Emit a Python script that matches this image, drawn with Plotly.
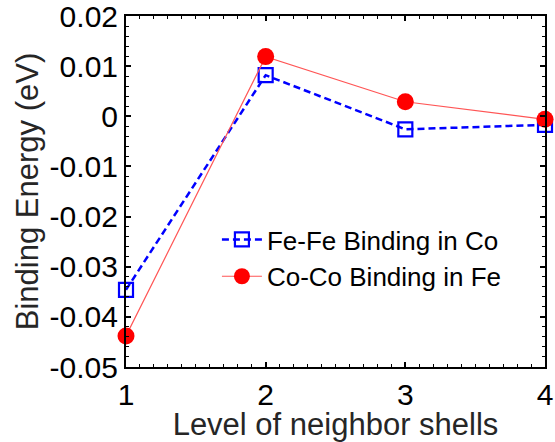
import plotly.graph_objects as go

levels = [1, 2, 3, 4]
fe_fe_in_co = [-0.0346, 0.0082, -0.0026, -0.0017]
co_co_in_fe = [-0.0438, 0.0119, 0.0029, -0.0006]
y_tick_vals = [0.02, 0.01, 0, -0.01, -0.02, -0.03, -0.04, -0.05]
y_tick_text = ["0.02", "0.01", "0", "-0.01", "-0.02", "-0.03", "-0.04", "-0.05"]
x_tick_vals = [1, 2, 3, 4]
x_tick_text = ["1", "2", "3", "4"]

FONT = "Liberation Sans, Arial, sans-serif"

fig = go.Figure()
fig.add_trace(go.Scatter(
    x=levels, y=fe_fe_in_co, mode="lines+markers", name="Fe-Fe Binding in Co",
    line=dict(color="#0000ff", width=2.5, dash="7px,4px"),
    marker=dict(symbol="square-open", size=14, color="#0000ff", line=dict(width=2.2, color="#0000ff")),
    cliponaxis=False,
))
fig.add_trace(go.Scatter(
    x=levels, y=co_co_in_fe, mode="lines+markers", name="Co-Co Binding in Fe",
    line=dict(color="#ff5555", width=1.2),
    marker=dict(symbol="circle", size=17, color="#ff0000"),
    cliponaxis=False,
))

axis_common = dict(
    showline=True, linecolor="black", linewidth=2, mirror="ticks",
    ticks="inside", tickcolor="black", tickwidth=1.5, ticklen=5,
    showgrid=False, zeroline=False, automargin=False, ticklabeloverflow="allow",
    tickfont=dict(family=FONT, size=30, color="black"),
)

fig.update_xaxes(
    range=[1, 4], tickmode="array", tickvals=x_tick_vals, ticktext=x_tick_text,
    minor=dict(ticks="inside", dtick=0.1, ticklen=3, tickcolor="black", tickwidth=1),
    title=dict(text="Level of neighbor shells", font=dict(family=FONT, size=31, color="#262626"), standoff=0),
    **axis_common,
)
fig.update_yaxes(
    range=[-0.05, 0.02], tickmode="array", tickvals=y_tick_vals, ticktext=y_tick_text,
    minor=dict(ticks="inside", dtick=0.002, ticklen=3, tickcolor="black", tickwidth=1),
    title=dict(text="Binding Energy (eV)", font=dict(family=FONT, size=31, color="#262626"), standoff=2),
    **axis_common,
)

fig.update_layout(
    width=555, height=442,
    margin=dict(l=126, r=10, t=16, b=75),
    plot_bgcolor="white", paper_bgcolor="white",
    showlegend=True,
    legend=dict(
        x=0.217, y=0.43, xanchor="left", yanchor="top",
        bgcolor="rgba(0,0,0,0)", font=dict(family=FONT, size=26, color="black"),
        tracegroupgap=0, itemwidth=40,
    ),
)

fig.write_html(
    "out.html",
    config={"displayModeBar": False},
    post_script="document.body.style.margin='0';document.body.style.padding='0';",
)
